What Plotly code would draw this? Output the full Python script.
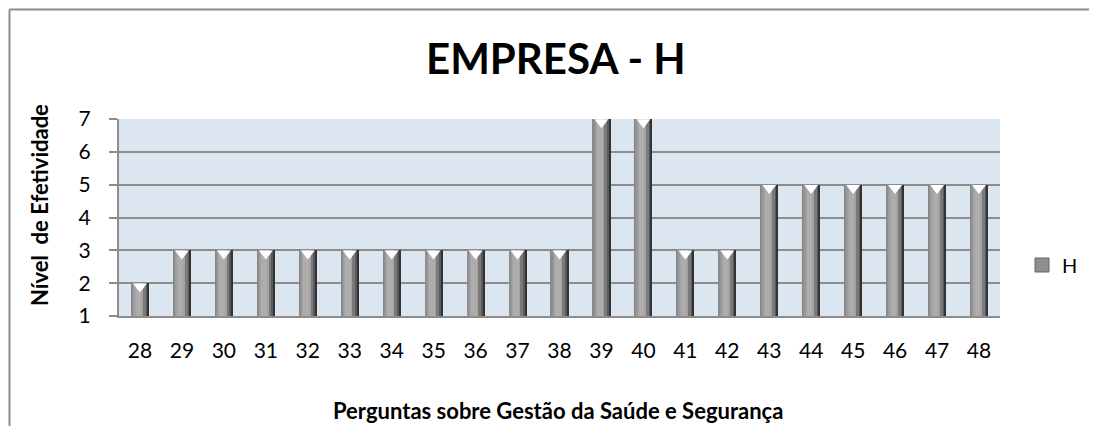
import plotly.graph_objects as go

categories = [str(c) for c in range(28, 49)]
values = [2, 3, 3, 3, 3, 3, 3, 3, 3, 3, 3, 7, 7, 3, 3, 5, 5, 5, 5, 5, 5]
series_name = "H"
title_text = "EMPRESA - H"
y_title = "Nível  de Efetividade"
x_title = "Perguntas sobre Gestão da Saúde e Segurança"
y_ticks = [1, 2, 3, 4, 5, 6, 7]

FONT = "Lato, 'Open Sans', sans-serif"
OFF = 8  # page body margin offset
W, H = 1097 - 2 * OFF, 434 - 2 * OFF
# desired on-screen plot area
SX0, SX1, SY0, SY1 = 119, 1000, 119, 316
L = SX0 - OFF
T = SY0 - OFF
R = W - (SX1 - OFF)
B = H - (SY1 - OFF)
PW = SX1 - SX0
PH = SY1 - SY0

def px_x(p):
    return (p - SX0) / PW

def px_y(p):
    return (SY1 - p) / PH

BW = 0.43
fig = go.Figure()
# bar body layers (simulated cylinder gradient)
layers = [
    (0.0, BW, "#858585"),
    (0.02, 0.34, "#8f8f8f"),
    (0.05, 0.27, "#999999"),
    (0.08, 0.20, "#a3a3a3"),
    (0.11, 0.13, "#adadad"),
    (0.28, 0.08, "#7a7a7a"),
    (0.36, 0.04, "#5a5a5a"),
    (BW - 0.035, 0.035, "#333333"),
]
for off, w, col in layers:
    fig.add_trace(go.Bar(
        x=categories, y=values, name=series_name,
        width=[w] * len(categories), offset=[-BW / 2 + off] * len(categories),
        marker=dict(color=col, line=dict(width=0)),
        showlegend=False,
    ))
# white notch at the top of each bar
fig.add_trace(go.Scatter(
    x=categories, y=[v - 0.1 for v in values], mode="markers",
    marker=dict(symbol="triangle-down", size=12, color="white", line=dict(width=0)),
    showlegend=False, hoverinfo="skip",
))
# legend entry
fig.add_trace(go.Scatter(
    x=[None], y=[None], mode="markers", name=series_name,
    marker=dict(symbol="square", size=14, color="#8f8f8f", line=dict(color="#666666", width=1)),
    showlegend=True,
))

fig.update_layout(
    width=W, height=H,
    margin=dict(l=L, r=R, t=T, b=B, autoexpand=False),
    paper_bgcolor="white", plot_bgcolor="#dce6f1",
    barmode="overlay", bargap=0,
    font=dict(family=FONT, color="black", size=21),
    showlegend=True,
    modebar=dict(bgcolor="rgba(0,0,0,0)", color="rgba(0,0,0,0)", activecolor="rgba(0,0,0,0)"),
    legend=dict(x=px_x(1022), y=px_y(265), xanchor="left", yanchor="middle",
                font=dict(size=20), bgcolor="rgba(0,0,0,0)",
                itemwidth=30),
    xaxis=dict(type="category", showgrid=False, showline=True, linecolor="#8c8c8c",
               linewidth=2, ticks="outside", ticklen=15, tickcolor="rgba(0,0,0,0)",
               tickfont=dict(size=21), range=[-0.5, len(categories) - 0.5]),
    yaxis=dict(range=[1, 7], tickvals=y_ticks, showgrid=True, gridcolor="#8c8c8c",
               gridwidth=2, showline=True, linecolor="#8c8c8c", linewidth=2,
               ticks="outside", ticklen=8, tickcolor="#8c8c8c", tickwidth=2,
               ticklabelstandoff=14, tickfont=dict(size=21), zeroline=False),
    annotations=[
        dict(text="<b>" + title_text + "</b>", x=px_x(556), y=px_y(58), xref="paper", yref="paper",
             showarrow=False, font=dict(size=42), xanchor="center", yanchor="middle"),
        dict(text="<b>" + y_title + "</b>", x=px_x(39), y=px_y(205), xref="paper", yref="paper",
             showarrow=False, textangle=-90, font=dict(size=22), xanchor="center", yanchor="middle"),
        dict(text="<b>" + x_title + "</b>", x=px_x(558), y=px_y(410), xref="paper", yref="paper",
             showarrow=False, font=dict(size=22), xanchor="center", yanchor="middle"),
    ],
    shapes=[
        dict(type="line", xref="paper", yref="paper", x0=px_x(OFF + 1.5), x1=px_x(1200),
             y0=px_y(OFF + 1.5), y1=px_y(OFF + 1.5), line=dict(color="#8c8c8c", width=2), layer="below"),
        dict(type="line", xref="paper", yref="paper", x0=px_x(OFF + 1.5), x1=px_x(OFF + 1.5),
             y0=px_y(OFF + 1.5), y1=px_y(600), line=dict(color="#8c8c8c", width=2), layer="below"),
    ],
)

fig.write_html("out.html")
